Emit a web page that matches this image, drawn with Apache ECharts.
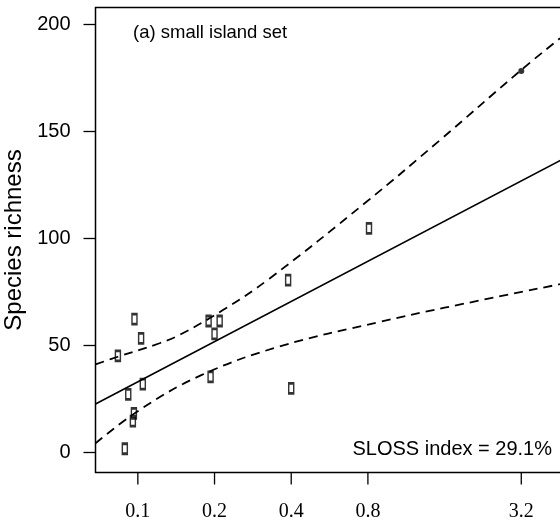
<!DOCTYPE html>
<html>
<head>
<meta charset="utf-8">
<script src="https://cdn.jsdelivr.net/npm/echarts@6/dist/echarts.min.js"></script>
<style>
html,body{margin:0;padding:0;background:#fff;}
#chart{width:560px;height:527px;}
</style>
</head>
<body>
<div id="chart"></div>
<script>
// island area (x) and species richness (y)
var islandArea = [0.097, 0.103, 0.0835, 0.1046, 0.0917, 0.0965, 0.0956, 0.0889, 0.1896, 0.2095, 0.200, 0.193, 0.40, 0.389, 0.808];
var islandRichness = [62.3, 53.3, 45.1, 31.9, 27.1, 18.2, 14.6, 1.7, 61.4, 61.4, 55.4, 35.3, 29.9, 80.5, 104.7];
// the single filled point
var bigArea = [3.2];
var bigRichness = [178.2];
// fitted line
var fitArea = [0.0682, 4.66];
var fitRichness = [22.6, 137];
// confidence bands
var upperArea = [0.0682, 0.0835, 0.1217, 0.1458, 0.2158, 0.3292, 0.790, 1.534, 3.162, 4.54];
var upperRichness = [41.1, 44.7, 51.0, 54.9, 66.5, 81.3, 117.1, 145.9, 178.2, 193.5];
var lowerArea = [0.0682, 0.1015, 0.1775, 0.360, 0.891, 1.60, 4.54];
var lowerRichness = [4.2, 19.8, 36.1, 49.5, 61.0, 67.6, 78.6];
// tick labels
var xTicks = [0.1, 0.2, 0.4, 0.8, 3.2];
var yTicks = [0, 50, 100, 150, 200];
// axis ranges
var xMin = 0.0682, xMax = 4.666;
var yMin = -9.4, yMax = 207.9;

// zip two arrays into [x,y] pairs
function pairs(xs, ys){
    var out = [];
    for(var i=0;i<xs.length;i++){
        out.push([xs[i], ys[i]]);
    }
    return out;
}

var sans = '"Liberation Sans", Arial, sans-serif';
var serif = '"Liberation Serif", "Times New Roman", serif';

var series = [
    {
        type: 'line', data: pairs(fitArea, fitRichness), symbol: 'none',
        lineStyle: {color: '#000', width: 1.6}, z: 2
    },
    {
        type: 'line', data: pairs(upperArea, upperRichness), symbol: 'none', smooth: 0.4,
        lineStyle: {color: '#000', width: 1.8, type: [9, 6]}, z: 2
    },
    {
        type: 'line', data: pairs(lowerArea, lowerRichness), symbol: 'none', smooth: 0.4,
        lineStyle: {color: '#000', width: 1.8, type: [9, 6]}, z: 2
    },
    {
        type: 'scatter', data: pairs(islandArea, islandRichness),
        symbol: 'rect', symbolSize: [5, 10],
        itemStyle: {color: 'rgba(0,0,0,0)', borderColor: '#000', borderWidth: 2}, z: 3
    },
    {
        type: 'scatter', data: pairs(bigArea, bigRichness),
        symbol: 'circle', symbolSize: 6,
        itemStyle: {color: '#000'}, z: 3
    }
];

// x tick marks: a short outward segment under each labelled value
var tickDepth = 5.6;   // in y units, about 12px
for(var i=0;i<xTicks.length;i++){
    series.push({
        type: 'line', clip: false, silent: true, symbol: 'none', z: 10,
        data: [[xTicks[i], yMin], [xTicks[i], yMin - tickDepth]],
        lineStyle: {color: '#000', width: 1.3}
    });
}

var option = {
    animation: false,
    backgroundColor: '#fff',
    grid: {
        left: 95.5, top: 7.5, right: -3, bottom: 54.5,
        outerBoundsMode: 'none',
        containLabel: false,
        show: true, borderColor: '#000', borderWidth: 1.5,
        backgroundColor: 'transparent'
    },
    xAxis: {
        type: 'log',
        logBase: 2,
        min: xMin,
        max: xMax,
        axisLine: {show: false, onZero: false},
        splitLine: {show: false},
        minorTick: {show: false},
        axisTick: {show: false},
        axisLabel: {
            customValues: xTicks,
            margin: 29,
            color: '#000',
            fontFamily: serif,
            fontSize: 20,
            formatter: function(v){ return String(+v.toFixed(2)); }
        }
    },
    yAxis: {
        type: 'value',
        min: yMin,
        max: yMax,
        name: 'Species richness',
        nameLocation: 'middle',
        nameGap: 48,
        nameTextStyle: {color: '#000', fontFamily: sans, fontSize: 24},
        axisLine: {show: false},
        splitLine: {show: false},
        axisTick: {show: true, length: 12, lineStyle: {color: '#000', width: 1.3}, customValues: yTicks},
        axisLabel: {customValues: yTicks, margin: 25, color: '#000', fontFamily: sans, fontSize: 20}
    },
    graphic: [
        {
            type: 'text', left: 133, top: 23,
            style: {text: '(a) small island set', fill: '#000', font: '18.5px ' + sans}
        },
        {
            type: 'text', right: 8, top: 439,
            style: {text: 'SLOSS index = 29.1%', fill: '#000', font: '20px ' + sans}
        }
    ],
    series: series
};

var myChart = echarts.init(document.getElementById('chart'), null, {renderer: 'canvas'});
myChart.setOption(option, true);
</script>
</body>
</html>
